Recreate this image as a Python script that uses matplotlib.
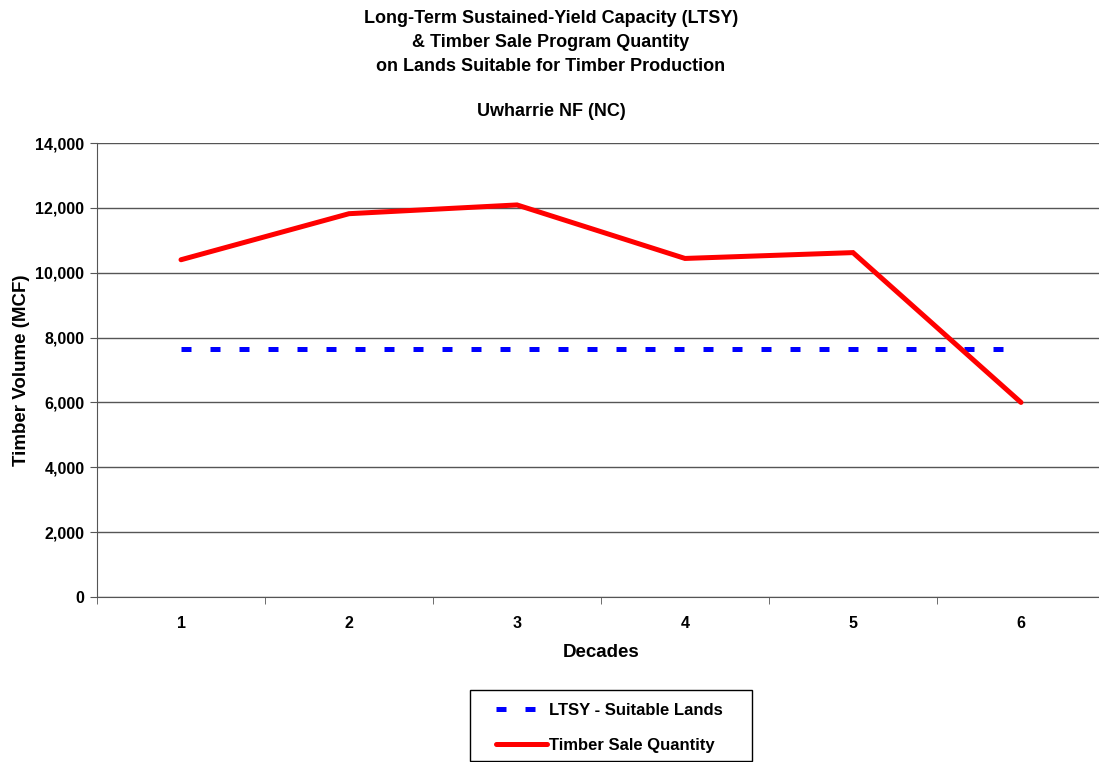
import matplotlib
matplotlib.use("Agg")
import matplotlib.pyplot as plt
from matplotlib.patches import Rectangle
import numpy as np

plt.rcParams['font.family'] = ['Liberation Sans', 'DejaVu Sans']
plt.rcParams['font.weight'] = 'bold'

decades = ['1', '2', '3', '4', '5', '6']
ltsy = [7660, 7660, 7660, 7660, 7660, 7660]
timber_sale = [10400, 11820, 12090, 10440, 10620, 6000]

fig = plt.figure(figsize=(10.99, 7.62), dpi=100)
# axes runs a little past the right edge of the figure, like the original
ax = fig.add_axes([97 / 1099, 1 - 597 / 762, 1008 / 1099, 454 / 762])

x = np.arange(len(decades))
ax.plot(x, ltsy, color='#0000ff', lw=3.6, dashes=(2.0, 3.8),
        label='LTSY - Suitable Lands')
ax.plot(x, timber_sale, color='#ff0000', lw=3.6, solid_capstyle='round',
        solid_joinstyle='miter', label='Timber Sale Quantity')

ax.set_xlim(-0.5, len(decades) - 0.5)
ax.set_ylim(0, 14000)
ax.set_yticks(np.arange(0, 14001, 2000))
ax.set_yticklabels([f'{v:,}' for v in range(0, 14001, 2000)])
ax.set_xticks(x)
ax.set_xticklabels(decades)
ax.set_xticks(np.arange(-0.5, len(decades), 1), minor=True)
ax.tick_params(axis='x', which='major', length=0, pad=14, labelsize=11.5)
ax.tick_params(axis='x', which='minor', length=5, color='#555555')
ax.tick_params(axis='y', length=5, color='#555555', labelsize=11.5, pad=4)
ax.grid(axis='y', color='#555555', lw=1)
ax.set_axisbelow(True)
for s in ['top', 'right']:
    ax.spines[s].set_visible(False)
for s in ['left', 'bottom']:
    ax.spines[s].set_color('#555555')

ax.set_xlabel('Decades', fontsize=13.5, fontweight='bold', labelpad=9)
ax.set_ylabel('Timber Volume (MCF)', fontsize=13.5, fontweight='bold', labelpad=4)

fig.text(551 / 1099, 1 - 10 / 762,
         'Long-Term Sustained-Yield Capacity (LTSY)\n'
         '& Timber Sale Program Quantity\n'
         'on Lands Suitable for Timber Production',
         ha='center', va='top', fontsize=13, fontweight='bold', linespacing=1.52)
fig.text(551 / 1099, 1 - 111 / 762, 'Uwharrie NF (NC)', ha='center', va='center',
         fontsize=13, fontweight='bold')

# legend box drawn by hand, wider than matplotlib's own padding
fig.patches.append(Rectangle((470 / 1099, 1 - 761 / 762), 282 / 1099, 71 / 762,
                             transform=fig.transFigure, fill=False,
                             edgecolor='black', lw=1))
leg = fig.legend(loc='upper left', bbox_to_anchor=(496 / 1099, 1 - 703 / 762),
                 frameon=False, fontsize=12, handlelength=3.05, borderpad=0,
                 labelspacing=1.2, handletextpad=0.15, borderaxespad=0)
for t in leg.get_texts():
    t.set_fontweight('bold')

fig.savefig('out.png', dpi=100)
